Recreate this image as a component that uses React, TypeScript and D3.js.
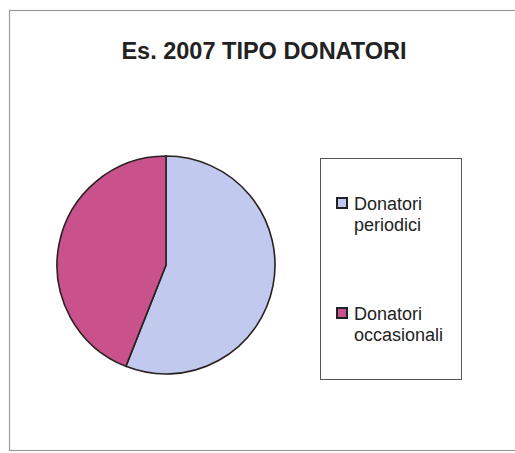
import React from "react";
import * as d3 from "d3";

const categories = ["Donatori periodici", "Donatori occasionali"];
const legendLines = [["Donatori", "periodici"], ["Donatori", "occasionali"]];
const values = [56, 44];
const colors = ["#c2c9ef", "#c9528d"];
const title = "Es. 2007 TIPO DONATORI";

export default function App() {
  const W = 515, H = 453;
  const cx = 166, cy = 265, r = 109;
  const pie = d3.pie<number>().sort(null).value((d) => d)(values);
  const arc = d3.arc<d3.PieArcDatum<number>>().innerRadius(0).outerRadius(r);
  return (
    <svg width={W} height={H} style={{ position: "absolute", left: 0, top: 0, background: "#fff" }}
      fontFamily="'Liberation Sans', Arial, sans-serif">
      <rect x={9.5} y={10.5} width={520} height={440} fill="#fff" stroke="#9a9a9a" strokeWidth={1.2} />
      <text x={264} y={59} textAnchor="middle" fontSize={23.5} fontWeight="bold" fill="#222">{title}</text>
      <g transform={`translate(${cx},${cy})`}>
        {pie.map((p, i) => (
          <path key={categories[i]} d={arc(p) || ""} fill={colors[i]} stroke="#2a2020" strokeWidth={1.6} />
        ))}
      </g>
      <rect x={320.5} y={158.5} width={141} height={221} fill="#fff" stroke="#555" strokeWidth={1} />
      {categories.map((c, i) => {
        const y0 = i === 0 ? 210 : 320;
        return (
          <g key={c}>
            <rect x={337} y={y0 - 12} width={10} height={10} fill={colors[i]} stroke="#222" strokeWidth={2} />
            <text x={354} y={y0} fontSize={18} fill="#222">{legendLines[i][0]}</text>
            <text x={354} y={y0 + 21} fontSize={18} fill="#222">{legendLines[i][1]}</text>
          </g>
        );
      })}
    </svg>
  );
}
